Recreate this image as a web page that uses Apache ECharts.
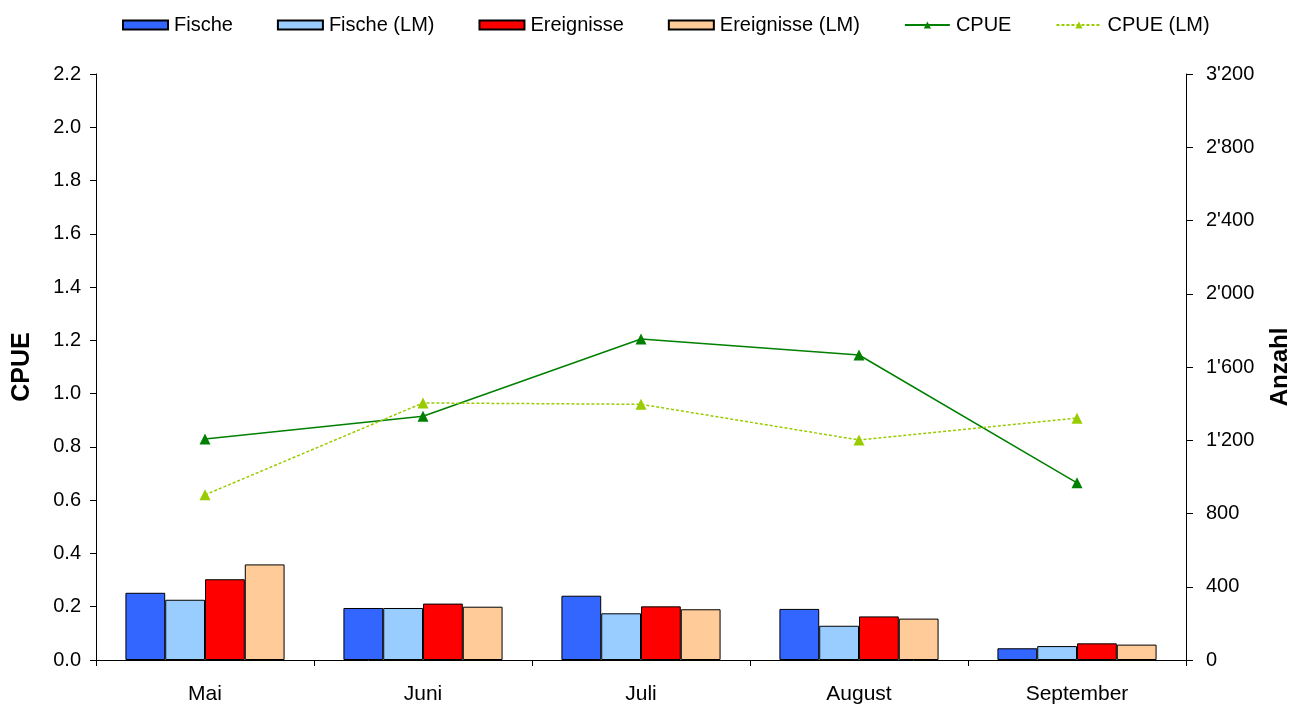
<!DOCTYPE html>
<html>
<head>
<meta charset="utf-8">
<script src="https://cdn.jsdelivr.net/npm/echarts@6/dist/echarts.min.js"></script>
<style>html,body{margin:0;padding:0;background:#fff;overflow:hidden}#c{width:1293px;height:704px}</style>
</head>
<body>
<div id="c"></div>
<script>
const categories = ['Mai', 'Juni', 'Juli', 'August', 'September'];
const fische = [367, 284, 351, 279, 64];
const fischeLM = [329, 284, 255, 187, 76];
const ereignisse = [441, 308, 293, 238, 91];
const ereignisseLM = [522, 291, 277, 226, 84];
const cpue = [0.83, 0.915, 1.205, 1.145, 0.665];
const cpueLM = [0.62, 0.965, 0.96, 0.826, 0.908];

const FONT = 'Liberation Sans, Arial, sans-serif';
const chart = echarts.init(document.getElementById('c'));
function sep(v){ return String(v).replace(/\B(?=(\d{3})+(?!\d))/g, "'"); }
const barStyle = c => ({ color: c, borderColor: '#000', borderWidth: 1 });
chart.setOption({
  animation: false,
  textStyle: { fontFamily: FONT },
  legend: {
    top: 10, left: 117, itemWidth: 45, itemHeight: 9, itemGap: 44,
    textStyle: { fontFamily: FONT, fontSize: 20, color: '#000', padding: [0, 0, 0, 1] },
    data: [
      { name: 'Fische', icon: 'rect' },
      { name: 'Fische (LM)', icon: 'rect' },
      { name: 'Ereignisse', icon: 'rect' },
      { name: 'Ereignisse (LM)', icon: 'rect' },
      'CPUE', 'CPUE (LM)'
    ]
  },
  grid: { left: 96, right: 107, top: 74, bottom: 44, containLabel: false, outerBoundsMode: 'none' },
  xAxis: {
    type: 'category', data: categories,
    axisLine: { lineStyle: { color: '#000', width: 1 } },
    axisTick: { show: true, length: 6, lineStyle: { color: '#000' } },
    axisLabel: { color: '#000', fontSize: 21, fontFamily: FONT, margin: 24 }
  },
  yAxis: [{
    type: 'value', min: 0, max: 2.2, interval: 0.2,
    name: 'CPUE', nameLocation: 'middle', nameRotate: 90, nameGap: 61,
    nameTextStyle: { fontSize: 25, fontWeight: 'bold', color: '#000', fontFamily: FONT },
    axisLine: { show: true, lineStyle: { color: '#000' } },
    axisTick: { show: true, length: 6, lineStyle: { color: '#000' } },
    splitLine: { show: false },
    axisLabel: { color: '#000', fontSize: 20, fontFamily: FONT, margin: 15, formatter: v => v.toFixed(1) }
  }, {
    type: 'value', min: 0, max: 3200, interval: 400, position: 'right',
    name: 'Anzahl', nameLocation: 'middle', nameRotate: 90, nameGap: 82,
    nameTextStyle: { fontSize: 24, fontWeight: 'bold', color: '#000', fontFamily: FONT },
    axisLine: { show: true, lineStyle: { color: '#000' } },
    axisTick: { show: true, length: 7, lineStyle: { color: '#000' } },
    splitLine: { show: false },
    axisLabel: { color: '#000', fontSize: 20, fontFamily: FONT, margin: 20, formatter: sep }
  }],
  series: [
    { name: 'Fische', type: 'bar', yAxisIndex: 1, data: fische, itemStyle: barStyle('#3366FF'), barGap: '0%', barCategoryGap: '27%' },
    { name: 'Fische (LM)', type: 'bar', yAxisIndex: 1, data: fischeLM, itemStyle: barStyle('#99CCFF') },
    { name: 'Ereignisse', type: 'bar', yAxisIndex: 1, data: ereignisse, itemStyle: barStyle('#FF0000') },
    { name: 'Ereignisse (LM)', type: 'bar', yAxisIndex: 1, data: ereignisseLM, itemStyle: barStyle('#FFCC99') },
    { name: 'CPUE', type: 'line', yAxisIndex: 0, data: cpue, symbol: 'triangle', symbolSize: 11,
      lineStyle: { color: '#008000', width: 1.5 }, itemStyle: { color: '#008000' } },
    { name: 'CPUE (LM)', type: 'line', yAxisIndex: 0, data: cpueLM, symbol: 'triangle', symbolSize: 11,
      lineStyle: { color: '#99CC00', width: 1.5, type: [3, 2] }, itemStyle: { color: '#99CC00' } }
  ]
});
</script>
</body>
</html>
